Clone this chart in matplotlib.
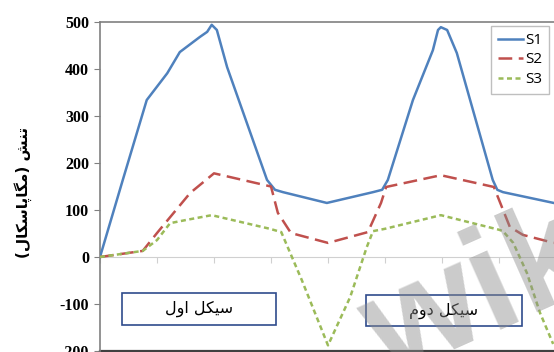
import matplotlib
matplotlib.use('Agg')
import matplotlib.pyplot as plt
from matplotlib.patches import Rectangle

# ── stress readings (MPa) along the loading steps ──
s1_x = [0, 0.40, 0.82, 1.18, 1.40, 1.75, 1.88, 1.96, 2.05, 2.23, 2.93, 3.07, 3.21,
        3.98, 4.79, 4.95, 5.05, 5.49, 5.84, 5.93, 5.98, 6.09, 6.26, 6.89, 6.97, 7.07, 7.96]
s1_y = [0, 164, 334, 391, 436, 468, 479, 494, 483, 404, 164, 143, 138,
        115, 138, 143, 164, 334, 440, 483, 489, 483, 434, 164, 143, 138, 115]

s2_x = [0, 0.75, 1.0, 1.58, 2.0, 2.5, 3.0, 3.12, 3.35, 4.0, 4.7, 4.93, 5.02,
        5.98, 6.91, 7.19, 7.42, 7.96]
s2_y = [0, 13, 51, 136, 178, 164, 150, 94, 51, 30, 53, 115, 149,
        174, 149, 64, 47, 30]

s3_x = [0, 0.75, 1.0, 1.23, 1.52, 1.96, 2.98, 3.18, 3.54, 4.0, 4.39, 4.68, 4.79,
        5.0, 5.98, 7.0, 7.07, 7.25, 7.49, 7.72, 7.95]
s3_y = [0, 13, 36, 72, 79, 89, 60, 53, -49, -188, -85, 21, 55,
        60, 89, 58, 55, 30, -34, -119, -185]

y_ticks = [-200, -100, 0, 100, 200, 300, 400, 500]

# Persian labels written in presentation forms (visual order)
ylabel = '(\uFEDD\uFE8E\uFB91\uFEB3\uFE8E\uFB58\uFE8E\uFB95\uFEE3) \uFEB6\uFEE8\uFE97'
cycle1 = '\uFEDD\uFEED\uFE8D \uFEDE\uFB91\uFBFF\uFEB3'
cycle2 = '\uFEE1\uFEED\uFEA9 \uFEDE\uFB91\uFBFF\uFEB3'

W, H = 554, 352
fig = plt.figure(figsize=(W / 100, H / 100), dpi=100)
ax = fig.add_axes([100 / W, 1 / H, 456 / W, 329 / H])

ax.plot(s1_x, s1_y, color='#4f81bd', lw=1.8, label='S1', zorder=3)
ax.plot(s2_x, s2_y, color='#c0504d', lw=1.8, dashes=(5.5, 2.6), label='S2', zorder=3)
ax.plot(s3_x, s3_y, color='#9bbb59', lw=1.8, dashes=(2.0, 1.4), label='S3', zorder=3)

ax.set_xlim(0, 8)
ax.set_ylim(-200, 500)
ax.set_yticks(y_ticks)
ax.set_yticklabels([str(v) for v in y_ticks], fontsize=11.5, fontweight='bold',
                   family='Liberation Serif')
ax.set_xticks(range(9))
ax.set_xticklabels([])
ax.tick_params(axis='x', length=4, color='#d0d0d0', direction='out')
ax.tick_params(axis='y', length=4, color='#808080', direction='out', pad=4)

ax.spines['bottom'].set_position(('data', 0))
ax.spines['bottom'].set_color('#d0d0d0')
ax.spines['right'].set_visible(False)
ax.spines['left'].set_color('#808080')
ax.spines['top'].set_color('#808080')
ax.spines['left'].set_linewidth(1.2)
ax.spines['top'].set_linewidth(1.2)
ax.axhline(-200, color='#404040', lw=1.6, clip_on=False)

# cycle boxes
for (x0, x1, y0, y1), txt in [((0.386, 3.09, -144.7, -76.6), cycle1),
                              ((4.67, 7.40, -146.8, -80.9), cycle2)]:
    ax.add_patch(Rectangle((x0, y0), x1 - x0, y1 - y0, facecolor='white',
                           edgecolor='#2f4b8c', lw=1.2, zorder=4))
    ax.text((x0 + x1) / 2, (y0 + y1) / 2, txt, ha='center', va='center',
            fontsize=11.5, family='DejaVu Sans', zorder=5)

fig.text(23 / W, 1 - 192 / H, ylabel, rotation=90, ha='center', va='center',
         fontsize=11, fontweight='bold', family='DejaVu Sans')

leg = ax.legend(loc='upper right', bbox_to_anchor=(549 / W, 1 - 26 / H),
                bbox_transform=fig.transFigure, handlelength=1.7,
                handletextpad=0.1, labelspacing=0.3, borderpad=0.45,
                borderaxespad=0, fancybox=False, framealpha=1, edgecolor='#bfbfbf',
                prop={'family': 'Open Sans', 'size': 11})
leg.set_zorder(6)

# faint site mark across the lower right
fig.text(345 / W, 1 - 376 / H, 'wik', rotation=24, fontsize=105,
         fontweight='bold', color='#8c8c8c', alpha=0.45, ha='left', va='baseline',
         family=['Liberation Sans Narrow', 'Liberation Sans'], zorder=10)

fig.savefig('out.png', dpi=100)
